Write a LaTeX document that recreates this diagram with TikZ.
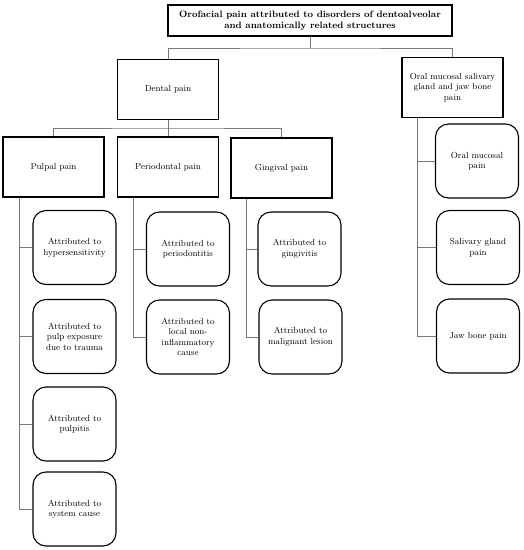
\documentclass[tikz,border=0pt]{standalone}
\usepackage{tikz}
\usetikzlibrary{positioning}
\definecolor{linkgray}{RGB}{120,120,120}

\begin{document}
\begin{tikzpicture}[x=1pt,y=-1pt]
    \tikzstyle{every node}=[font=\fontsize{8.8}{10.5}\selectfont,align=center,inner sep=2pt];
    \tikzstyle{group}=[draw,line width=1.1pt,minimum width=101pt,minimum height=60pt];
    \tikzstyle{leaf}=[draw,line width=1.1pt,rounded corners=13pt,minimum width=83pt,minimum height=74pt];
    \tikzstyle{link}=[draw=linkgray,line width=0.9pt];

    \useasboundingbox (0,0) rectangle (524,550);

    \node[draw,line width=1.6pt,minimum width=284pt,minimum height=31pt,font=\fontsize{9.3}{11}\selectfont\bfseries] (top) at (310,20.5)
        {Orofacial pain attributed to disorders of dentoalveolar\\and anatomically related structures};

    \node[group] (dental) at (168,89.5) {Dental pain};
    \node[group] (oral) at (452.5,87.5) {Oral mucosal salivary\\gland and jaw bone\\pain};

    \node[group] (pulpal) at (53.5,167) {Pulpal pain};
    \node[group] (perio) at (168,167) {Periodontal pain};
    \node[group] (gingi) at (281.5,168) {Gingival pain};

    \node[leaf] (hyper) at (74.5,247.5) {Attributed to\\hypersensitivity};
    \node[leaf] (exposure) at (74.5,336.5) {Attributed to\\pulp exposure\\due to trauma};
    \node[leaf] (pulpitis) at (74.5,424) {Attributed to\\pulpitis};
    \node[leaf] (systemic) at (74.5,509) {Attributed to\\system cause};

    \node[leaf] (periodontitis) at (188,249) {Attributed to\\periodontitis};
    \node[leaf] (localcause) at (188,337) {Attributed to\\local non-\\inflammatory\\cause};

    \node[leaf] (gingivitis) at (299.5,249) {Attributed to\\gingivitis};
    \node[leaf] (malignant) at (300.5,337) {Attributed to\\malignant lesion};

    \node[leaf] (mucosal) at (477,161) {Oral mucosal\\pain};
    \node[leaf] (salivary) at (478,247.5) {Salivary gland\\pain};
    \node[leaf] (jawbone) at (478,336) {Jaw bone pain};

    \coordinate (bus1) at (310,48);
    \coordinate (bus2) at (168,128);
    \draw[link] (top.south) -- (bus1);
    \draw[link] (dental.north) |- (bus1) -| (oral.north);
    \draw[link] (dental.south) -- (perio.north);
    \draw[link] (pulpal.north) |- (bus2) -| (gingi.north);

    \coordinate (ptrunk) at ([xshift=16.5pt]pulpal.south west);
    \coordinate (dtrunk) at ([xshift=16pt]perio.south west);
    \coordinate (gtrunk) at ([xshift=16pt]gingi.south west);
    \coordinate (otrunk) at ([xshift=16pt]oral.south west);

    \draw[link] (ptrunk) |- (systemic.west);
    \foreach \c in {hyper,exposure,pulpitis}
        \draw[link] (ptrunk |- \c.west) -- (\c.west);
    \draw[link] (dtrunk) |- (localcause.west);
    \draw[link] (dtrunk |- periodontitis.west) -- (periodontitis.west);
    \draw[link] (gtrunk) |- (malignant.west);
    \draw[link] (gtrunk |- gingivitis.west) -- (gingivitis.west);
    \draw[link] (otrunk) |- (jawbone.west);
    \foreach \c in {mucosal,salivary}
        \draw[link] (otrunk |- \c.west) -- (\c.west);
\end{tikzpicture}
\end{document}
